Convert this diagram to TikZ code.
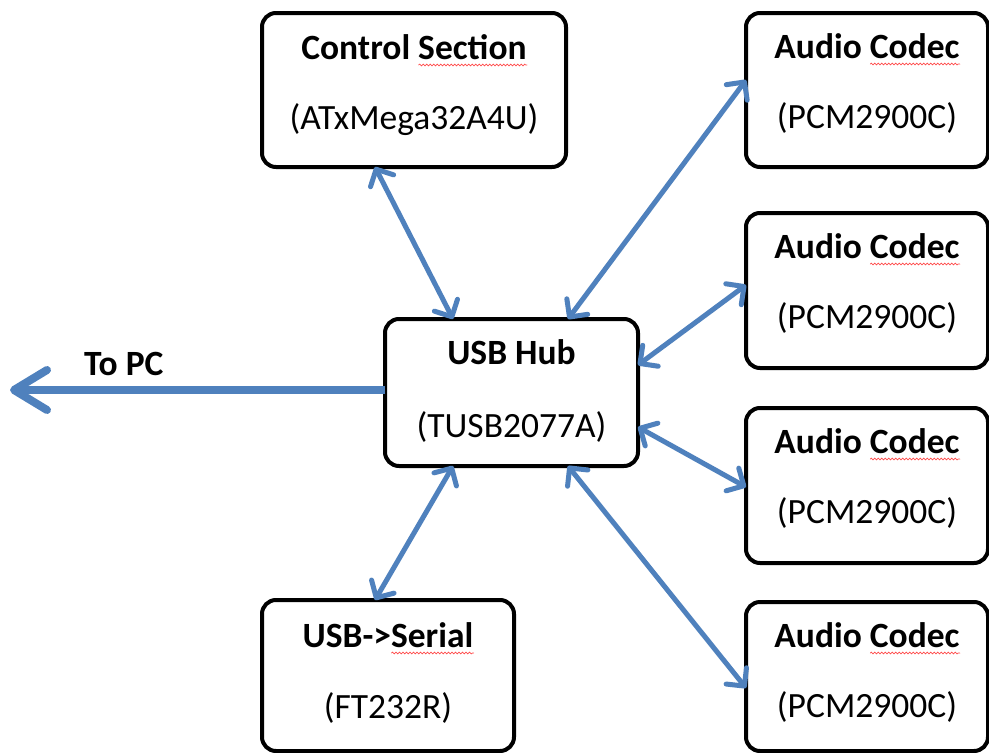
\documentclass[tikz,border=0pt]{standalone}
\usepackage{fontspec}
\setmainfont{Carlito}
\usetikzlibrary{arrows.meta,calc,decorations.pathmorphing}
\definecolor{linkblue}{HTML}{4F81BD}
\newsavebox\wavebox
\newlength\wavewd
\newcommand\spellwave[1]{\sbox\wavebox{#1}\setlength\wavewd{\wd\wavebox}%
  \rlap{\tikz[x=1pt,y=1pt,baseline=0pt]\draw[red!70,line width=0.7pt,line cap=round,decorate,decoration={snake,amplitude=0.9pt,segment length=3.5pt}] (0,-6) -- (\wavewd,-6);}\usebox\wavebox}
\begin{document}
\begin{tikzpicture}[x=1pt,y=-1pt,
  box/.style={draw=black, line width=4pt, rounded corners=14pt, fill=white, inner sep=0pt, outer sep=0pt},
  titletext/.style={font=\fontsize{35.5}{42}\selectfont\bfseries, anchor=base, inner sep=0pt},
  subtext/.style={font=\fontsize{35.5}{42}\selectfont, anchor=base, inner sep=0pt},
  link/.style={draw=linkblue, line width=5pt, {Straight Barb[length=13pt,width=26pt,round]}-{Straight Barb[length=13pt,width=26pt,round]}},
  pclink/.style={draw=linkblue, line width=8pt, -{Straight Barb[length=33pt,width=40pt,round]}}]
\fill[white] (0,0) rectangle (989,753);
\useasboundingbox (0,0) rectangle (989,753);
% boxes
\node[box, minimum width=304pt, minimum height=154pt] (cs) at (414,90) {};
\node[box, minimum width=253pt, minimum height=147pt] (hub) at (511.5,392.5) {};
\node[box, minimum width=252pt, minimum height=151pt] (ser) at (388,675.5) {};
\node[box, minimum width=242pt, minimum height=154pt] (c1) at (867,90) {};
\node[box, minimum width=242pt, minimum height=155pt] (c2) at (867,290.5) {};
\node[box, minimum width=242pt, minimum height=155pt] (c3) at (867,485.5) {};
\node[box, minimum width=242pt, minimum height=149pt] (c4) at (867,676.5) {};
% texts
\node[titletext] (cst) at ($(cs.north)+(0,46)$) {Control \spellwave{Section}};
\node[subtext] (css) at ($(cs.north)+(0,116)$) {(ATxMega32A4U)};
\node[titletext] (hubt) at ($(hub.north)+(0,45)$) {USB Hub};
\node[subtext] (hubs) at ($(hub.north)+(0,118)$) {(TUSB2077A)};
\node[titletext] (sert) at ($(ser.north)+(0,47)$) {USB->\spellwave{Serial}};
\node[subtext] (sers) at ($(ser.north)+(0,118)$) {(FT232R)};
\foreach \c in {c1,c2,c3,c4}{
  \node[titletext] (\c t) at ($(\c.north)+(0,45)$) {Audio \spellwave{Codec}};
  \node[subtext] (\c s) at ($(\c.north)+(0,115)$) {(PCM2900C)};
}
\node[titletext, anchor=base west] (topc) at (84,375) {To PC};
% connectors
\coordinate (pc) at (10,390);
\draw[pclink] ([yshift=2.5pt]hub.west) -- (pc);
\draw[link] ([xshift=-39pt]cs.south) -- ([xshift=-58.5pt]hub.north);
\draw[link] ([xshift=56.5pt]hub.north) -- ([yshift=10pt]c1.west);
\draw[link] ([yshift=27.5pt]hub.east) -- ([yshift=5.5pt]c2.west);
\draw[link] ([yshift=-34.5pt]hub.east) -- ([yshift=-1.5pt]c3.west);
\draw[link] ([xshift=56.5pt]hub.south) -- ([yshift=-11.5pt]c4.west);
\draw[link] ([xshift=-58.5pt]hub.south) -- ([xshift=-13pt]ser.north);
\end{tikzpicture}
\end{document}
